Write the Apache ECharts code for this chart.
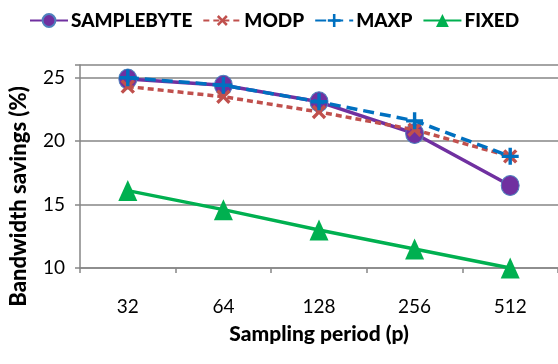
<!DOCTYPE html>
<html>
<head>
<meta charset="utf-8">
<script src="https://cdn.jsdelivr.net/npm/echarts@6/dist/echarts.min.js"></script>
<style>
  html, body { margin: 0; padding: 0; background: #fff; }
  #chart { width: 558px; height: 364px; }
</style>
</head>
<body>
<div id="chart"></div>
<script>
// data
const periods = ["32", "64", "128", "256", "512"];
const sampleByte = [24.9, 24.4, 23.1, 20.6, 16.5];
const modp = [24.3, 23.5, 22.3, 20.9, 18.8];
const maxp = [25.0, 24.4, 23.1, 21.6, 18.8];
const fixed = [16.1, 14.6, 13.0, 11.5, 10.0];

const font = "Lato, sans-serif";
const plusPath = "path://M4,0H6V4H10V6H6V10H4V6H0V4H4Z";

const myChart = echarts.init(document.getElementById("chart"));

const options = {
  animation: false,
  legend: {
    top: 6,
    left: 24,
    itemWidth: 38,
    itemHeight: 16,
    itemGap: 10,
    textStyle: { fontFamily: font, fontWeight: 900, fontSize: 19, color: "#000", padding: [0, 0, 0, -2] },
    data: ["SAMPLEBYTE", "MODP", "MAXP", "FIXED"]
  },
  grid: { left: 78, right: -10, top: 65, bottom: 96 },
  xAxis: {
    type: "category",
    data: periods,
    name: "Sampling period (p)",
    nameLocation: "middle",
    nameGap: 56,
    nameTextStyle: { fontFamily: font, fontWeight: 900, fontSize: 21, color: "#000" },
    axisLine: { lineStyle: { color: "#868686", width: 1.5 } },
    axisTick: { show: true, length: 5, lineStyle: { color: "#868686", width: 1.5 } },
    axisLabel: { fontFamily: font, fontSize: 19, color: "#000", margin: 29 }
  },
  yAxis: {
    type: "value",
    min: 10,
    max: 26,
    interval: 5,
    name: "Bandwidth savings (%)",
    nameLocation: "middle",
    nameRotate: 90,
    nameGap: 50,
    nameTextStyle: { fontFamily: font, fontWeight: 900, fontSize: 22, color: "#000", padding: [0, 60, 0, 0] },
    axisLine: { show: true, lineStyle: { color: "#868686", width: 1.5 } },
    axisTick: { show: true, length: 5, lineStyle: { color: "#868686", width: 1.5 } },
    splitLine: { lineStyle: { color: "#868686", width: 1.5 } },
    axisLabel: { fontFamily: font, fontSize: 19, color: "#000", margin: 15,
      formatter: v => (v % 5 === 0 ? String(v) : "") }
  },
  series: [
    {
      name: "SAMPLEBYTE",
      type: "line",
      data: sampleByte,
      symbol: "circle",
      symbolSize: [18, 20],
      lineStyle: { color: "#7030A0", width: 3.5 },
      itemStyle: { color: "#7030A0", borderColor: "#4F81BD", borderWidth: 1 },
      z: 2
    },
    {
      name: "MODP",
      type: "line",
      data: modp,
      symbol: plusPath,
      symbolRotate: 45,
      symbolSize: 17,
      lineStyle: { color: "#C0504D", width: 3.5, type: [6, 4] },
      itemStyle: { color: "#C0504D" },
      z: 3
    },
    {
      name: "MAXP",
      type: "line",
      data: maxp,
      symbol: plusPath,
      symbolSize: 17,
      lineStyle: { color: "#0070C0", width: 3.5, type: [11, 6] },
      itemStyle: { color: "#0070C0" },
      z: 4
    },
    {
      name: "FIXED",
      type: "line",
      data: fixed,
      symbol: "triangle",
      symbolSize: [19, 21],
      lineStyle: { color: "#00B050", width: 3.5 },
      itemStyle: { color: "#00B050" },
      z: 2
    }
  ]
};
myChart.setOption(options);
</script>
</body>
</html>
